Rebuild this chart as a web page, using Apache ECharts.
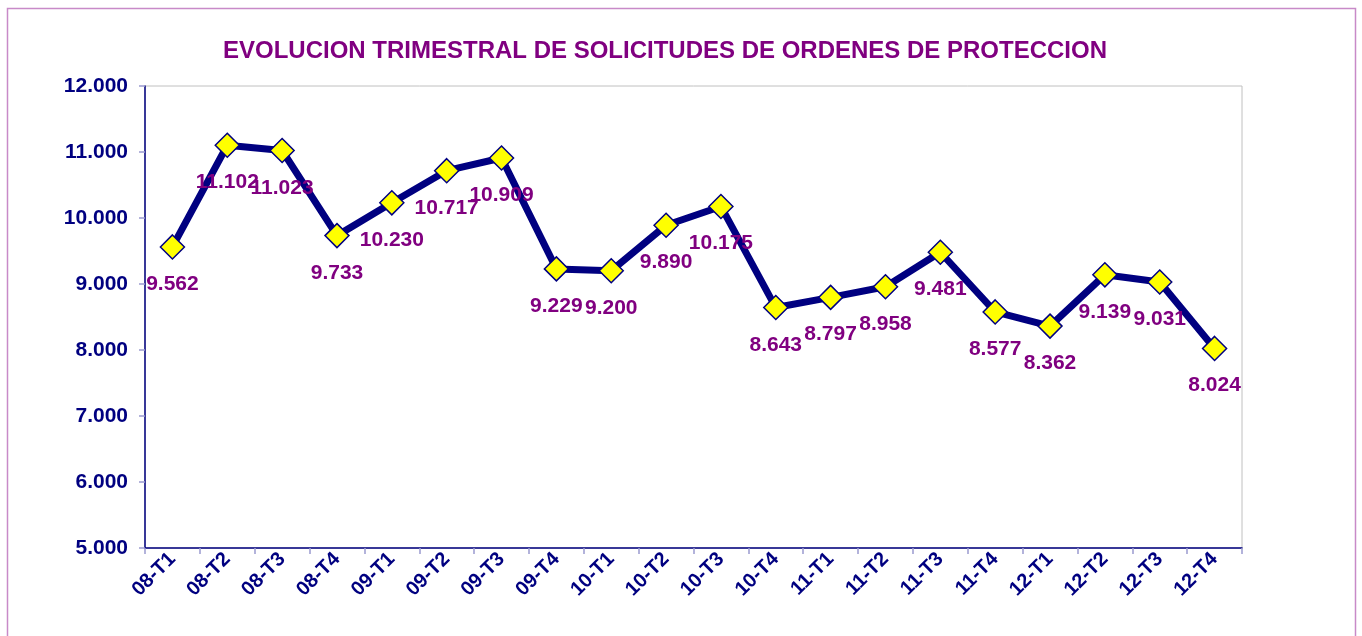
<!DOCTYPE html>
<html>
<head>
<meta charset="utf-8">
<script src="https://cdn.jsdelivr.net/npm/echarts@6/dist/echarts.min.js"></script>
<style>
  html, body { margin: 0; padding: 0; background: #fff; }
  #main { width: 1362px; height: 636px; }
</style>
</head>
<body>
<div id="main"></div>
<script>
const categories = ['08-T1', '08-T2', '08-T3', '08-T4', '09-T1', '09-T2', '09-T3', '09-T4',
  '10-T1', '10-T2', '10-T3', '10-T4', '11-T1', '11-T2', '11-T3', '11-T4',
  '12-T1', '12-T2', '12-T3', '12-T4']
const solicitudes = [9562, 11102, 11023, 9733, 10230, 10717, 10909, 9229,
  9200, 9890, 10175, 8643, 8797, 8958, 9481, 8577,
  8362, 9139, 9031, 8024]
const yTicks = [5000, 6000, 7000, 8000, 9000, 10000, 11000, 12000]

// formato con punto de miles
const fmt = v => {
  const s = String(Math.round(v))
  return s.length > 3 ? s.slice(0, s.length - 3) + '.' + s.slice(-3) : s
}

const myChart = echarts.init(document.getElementById('main'))
const option = {
  animation: false,
  textStyle: { fontFamily: 'Liberation Sans, Arial, sans-serif' },
  title: {
    text: 'EVOLUCION TRIMESTRAL DE SOLICITUDES DE ORDENES DE PROTECCION',
    left: 660,
    textAlign: 'center',
    top: 34,
    textStyle: { color: '#800080', fontSize: 24, fontWeight: 'bold' }
  },
  graphic: [{
    type: 'rect',
    shape: { x: 7.5, y: 8.5, width: 1348, height: 700 },
    style: { fill: 'none', stroke: '#c88ac8', lineWidth: 1.5 },
    silent: true
  }],
  grid: {
    left: 145,
    top: 86,
    right: 120,
    bottom: 88,
    show: true,
    borderColor: '#c0c0c0',
    borderWidth: 1,
    containLabel: false
  },
  xAxis: {
    type: 'category',
    data: categories,
    boundaryGap: true,
    axisLine: { lineStyle: { color: '#000080', width: 1.5 } },
    axisTick: { show: true, length: 6, lineStyle: { color: '#9a9ad0', width: 1.5 } },
    axisLabel: {
      interval: 0,
      rotate: 45,
      margin: 8,
      color: '#000080',
      fontSize: 20,
      fontWeight: 'bold'
    }
  },
  yAxis: {
    type: 'value',
    min: yTicks[0],
    max: yTicks[yTicks.length - 1],
    interval: 1000,
    axisLine: { show: true, lineStyle: { color: '#000080', width: 1.5 } },
    axisTick: { show: true, length: 6, lineStyle: { color: '#9a9ad0', width: 1.5 } },
    splitLine: { show: false },
    axisLabel: {
      color: '#000080',
      fontSize: 21,
      fontWeight: 'bold',
      margin: 17,
      formatter: fmt
    }
  },
  series: [{
    type: 'line',
    data: solicitudes,
    symbol: 'diamond',
    symbolSize: 24,
    lineStyle: { color: '#000080', width: 7 },
    itemStyle: { color: '#ffff00', borderColor: '#000080', borderWidth: 1.5 },
    label: {
      show: true,
      position: 'bottom',
      distance: 14,
      color: '#800080',
      fontSize: 21,
      fontWeight: 'bold',
      formatter: p => fmt(p.value)
    },
    z: 3
  }]
}
myChart.setOption(option)
</script>
</body>
</html>
